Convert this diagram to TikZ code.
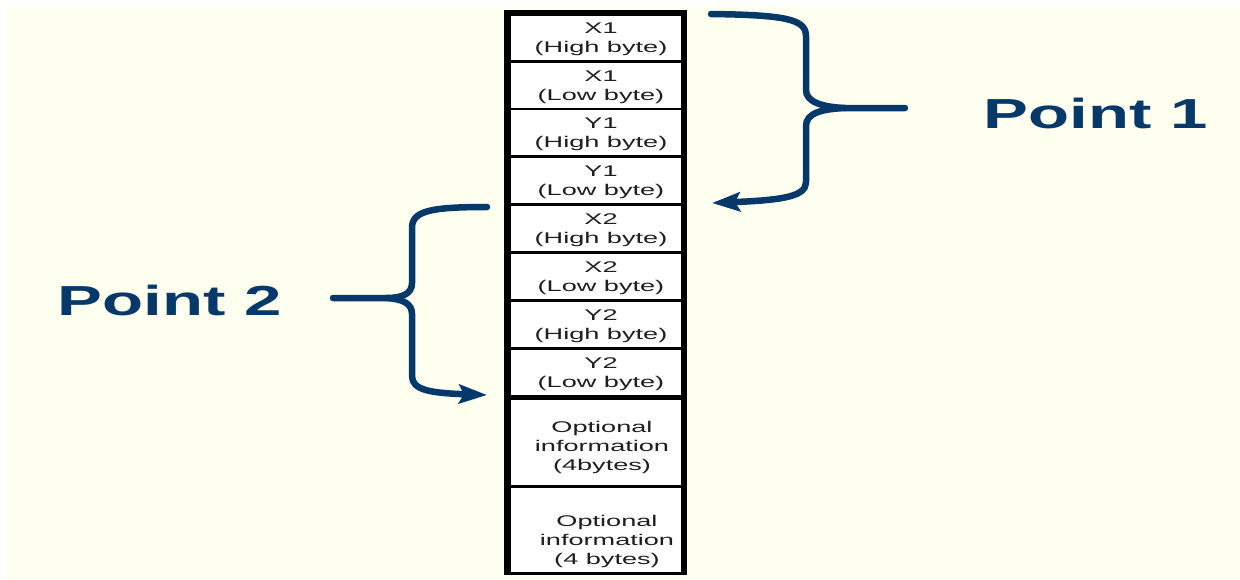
\documentclass[tikz,border=0pt]{standalone}
\usepackage{fontspec}
\setmainfont{Liberation Sans}
\newfontfamily\cellfont[FakeStretch=1.75]{Liberation Sans}
\newfontfamily\pointfont[FakeStretch=1.6]{Liberation Sans}
\usetikzlibrary{arrows.meta}
\definecolor{navy}{RGB}{6,56,106}
\definecolor{ivorybg}{RGB}{255,255,240}
\definecolor{celltext}{RGB}{30,30,30}
\begin{document}
\begin{tikzpicture}[x=1pt,y=-1pt,
  cellbox/.style={fill=white, draw=none, inner sep=0pt, minimum width=170pt},
  celltxt/.style={align=center, inner sep=0pt, text=celltext,
    font=\cellfont\fontsize{15.5}{19}\selectfont},
  pointlabel/.style={inner sep=0pt, anchor=base, text=navy,
    font=\pointfont\bfseries\fontsize{42}{50}\selectfont},
  brace/.style={draw=navy, line width=6.5pt, line cap=round, line join=round},
  bracetip/.style={-{Stealth[length=28pt,width=19pt,inset=5pt]}}]
\useasboundingbox (0,0) rectangle (1240,579);
\fill[white] (0,0) rectangle (1240,579);
\fill[ivorybg] (6,7) rectangle (1240,579);

% black frame holding the byte cells
\node[fill=black, inner sep=0pt, minimum width=183pt, minimum height=565pt] (frame) at (595.5,292.5) {};

% one white cell per byte field: top/bottom/name/text
\foreach \t/\b/\n/\txt in {
  16/60/c1/{X1\\(High byte)},
  63/108/c2/{X1\\(Low byte)},
  110/155/c3/{Y1\\(High byte)},
  158/203/c4/{Y1\\(Low byte)},
  206/251/c5/{X2\\(High byte)},
  254/299/c6/{X2\\(Low byte)},
  302/347/c7/{Y2\\(High byte)},
  350/395/c8/{Y2\\(Low byte)}} {
  \node[cellbox, minimum height={\b-\t}] (\n) at (596,{(\t+\b)/2}) {};
  \node[celltxt] (\n txt) at (601,{(\t+\b)/2+1.5}) {\txt};
}
\node[cellbox, minimum height=85pt] (c9) at (596,442.5) {};
\node[celltxt] (c9txt) at (602,447) {Optional\\information\\(4bytes)};
\node[cellbox, minimum height=84pt] (c10) at (596,530) {};
\node[celltxt] (c10txt) at (607,541) {Optional\\information\\(4 bytes)};

% labels
\node[pointlabel] (point1) at (1095.5,128) {Point 1};
\node[pointlabel] (point2) at (170,315) {Point 2};

% brace for point 1
\coordinate (p1top) at (711,14);
\coordinate (p1cusp) at (845,108);
\coordinate (p1end) at (905,108);
\coordinate (p1tip) at (712,203);
\draw[brace] (p1top) .. controls (785,15) and (806,19) .. (806,36)
  -- (806,90) .. controls (806,102) and (822,107) .. (p1cusp) -- (p1end);
\draw[brace, bracetip] (p1cusp) .. controls (822,109) and (806,113) .. (806,126)
  -- (806,182) .. controls (806,196) and (785,200) .. (p1tip);

% brace for point 2
\coordinate (p2top) at (487,207);
\coordinate (p2cusp) at (386,298);
\coordinate (p2end) at (333,298);
\coordinate (p2tip) at (487,395);
\draw[brace] (p2top) .. controls (430,207) and (412,211) .. (412,228)
  -- (412,283) .. controls (412,294) and (402,298) .. (p2cusp) -- (p2end);
\draw[brace, bracetip] (p2cusp) .. controls (402,299) and (412,303) .. (412,314)
  -- (412,376) .. controls (412,390) and (430,393) .. (p2tip);
\end{tikzpicture}
\end{document}
